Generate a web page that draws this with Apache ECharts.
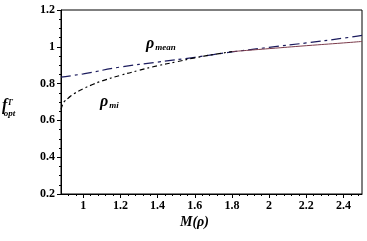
<!DOCTYPE html>
<html><head><meta charset="utf-8">
<script src="https://cdn.jsdelivr.net/npm/echarts@6/dist/echarts.min.js"></script>
<style>html,body{margin:0;padding:0;background:#fff}#c{width:367px;height:241px}</style>
</head><body><div id="c"></div>
<script>
const xTicks = [1, 1.2, 1.4, 1.6, 1.8, 2, 2.2, 2.4];
const xMinorTicks = [0.92,0.96,1.04,1.08,1.12,1.16,1.24,1.28,1.32,1.36,1.44,1.48,1.52,1.56,1.64,1.68,1.72,1.76,1.84,1.88,1.92,1.96,2.04,2.08,2.12,2.16,2.24,2.28,2.32,2.36,2.44,2.48];
const yTickLabels = {"1.2":"1.2","1":"1","0.8":"0.8","0.6":"0.6","0.4":"0.4","0.2":"0.2"};
const meanX = [0.88, 1.0, 1.2, 1.4, 1.6, 1.8, 2.0, 2.2, 2.4, 2.5];
const meanY = [0.835, 0.853, 0.89, 0.917, 0.943, 0.972, 0.997, 1.021, 1.047, 1.062];
const miX = [0.88, 0.89, 0.9, 0.92, 0.95, 1.0, 1.05, 1.1, 1.2, 1.3, 1.4, 1.5, 1.6, 1.7, 1.8];
const miY = [0.66, 0.69, 0.705, 0.722, 0.745, 0.772, 0.795, 0.814, 0.845, 0.872, 0.897, 0.918, 0.94, 0.958, 0.974];
const solidX = [1.8, 2.0, 2.2, 2.4, 2.5];
const solidY = [0.974, 0.99, 1.006, 1.021, 1.029];
const zip = (a, b) => a.map((v, i) => [v, b[i]]);
const FONT = 'Liberation Serif';
const chart = echarts.init(document.getElementById('c'));
chart.setOption({
  animation: false,
  grid: {left: 61, right: 5, top: 10, bottom: 47, show: true, borderColor: '#000', borderWidth: 1},
  xAxis: [{
    type: 'value', min: 0.88, max: 2.5,
    axisLine: {lineStyle: {color: '#000', width: 1}},
    splitLine: {show: false},
    axisTick: {show: true, length: 4, customValues: xTicks, lineStyle: {color: '#000'}},
    axisLabel: {customValues: xTicks, color: '#000', fontFamily: FONT, fontWeight: 'bold', fontSize: 12, margin: 6,
      formatter: v => String(v)}
  }, {
    type: 'value', min: 0.88, max: 2.5, position: 'bottom',
    axisLine: {show: false}, splitLine: {show: false},
    axisTick: {show: true, length: 2, customValues: xMinorTicks, lineStyle: {color: '#000'}},
    axisLabel: {show: false}
  }],
  yAxis: {
    type: 'value', min: 0.2, max: 1.2, interval: 0.2,
    axisLine: {show: true, lineStyle: {color: '#000', width: 1}},
    splitLine: {show: false},
    axisTick: {show: true, length: 4, lineStyle: {color: '#000'}},
    minorTick: {show: true, splitNumber: 4, length: 2, lineStyle: {color: '#000'}},
    axisLabel: {color: '#000', fontFamily: FONT, fontWeight: 'bold', fontSize: 12, margin: 6,
      formatter: v => yTickLabels[String(+v.toFixed(2))] || ''}
  },
  series: [
    {type: 'line', data: zip(meanX, meanY), smooth: true, symbol: 'none',
      lineStyle: {color: '#1c1c5e', width: 1.2, type: [10, 4, 3, 4]}},
    {type: 'line', data: zip(miX, miY), smooth: true, symbol: 'none',
      lineStyle: {color: '#000', width: 1.2, type: [5, 3, 2, 3]}},
    {type: 'line', data: zip(solidX, solidY), smooth: true, symbol: 'none',
      lineStyle: {color: '#7a3a4a', width: 1, type: 'solid'}}
  ],
  graphic: [
    {type: 'text', left: 146, top: 36, style: {
      text: '{a|ρ}{b|mean}', rich: {
        a: {fontFamily: FONT, fontStyle: 'italic', fontWeight: 'bold', fontSize: 16, fill: '#000'},
        b: {fontFamily: FONT, fontStyle: 'italic', fontWeight: 'bold', fontSize: 9, fill: '#000', padding: [8, 0, 0, 1]}
      }}},
    {type: 'text', left: 100, top: 94, style: {
      text: '{a|ρ}{b|mi}', rich: {
        a: {fontFamily: FONT, fontStyle: 'italic', fontWeight: 'bold', fontSize: 16, fill: '#000'},
        b: {fontFamily: FONT, fontStyle: 'italic', fontWeight: 'bold', fontSize: 9, fill: '#000', padding: [8, 0, 0, 1]}
      }}},
    {type: 'text', left: 2, top: 98, style: {
      text: '{a|f}{c|Γ}\n{s| }{b|opt}', rich: {
        a: {fontFamily: FONT, fontStyle: 'italic', fontWeight: 'bold', fontSize: 16, fill: '#000', lineHeight: 8},
        c: {fontFamily: FONT, fontStyle: 'italic', fontWeight: 'bold', fontSize: 8, fill: '#000', lineHeight: 8, padding: [0, 0, 6, 1]},
        s: {fontSize: 6, lineHeight: 8},
        b: {fontFamily: FONT, fontStyle: 'italic', fontWeight: 'bold', fontSize: 9, fill: '#000', lineHeight: 8}
      }}},
    {type: 'text', left: 180, top: 215, style: {
      text: 'M(ρ)', fontFamily: FONT, fontStyle: 'italic', fontWeight: 'bold', fontSize: 14, fill: '#000'}}
  ]
});
</script></body></html>
